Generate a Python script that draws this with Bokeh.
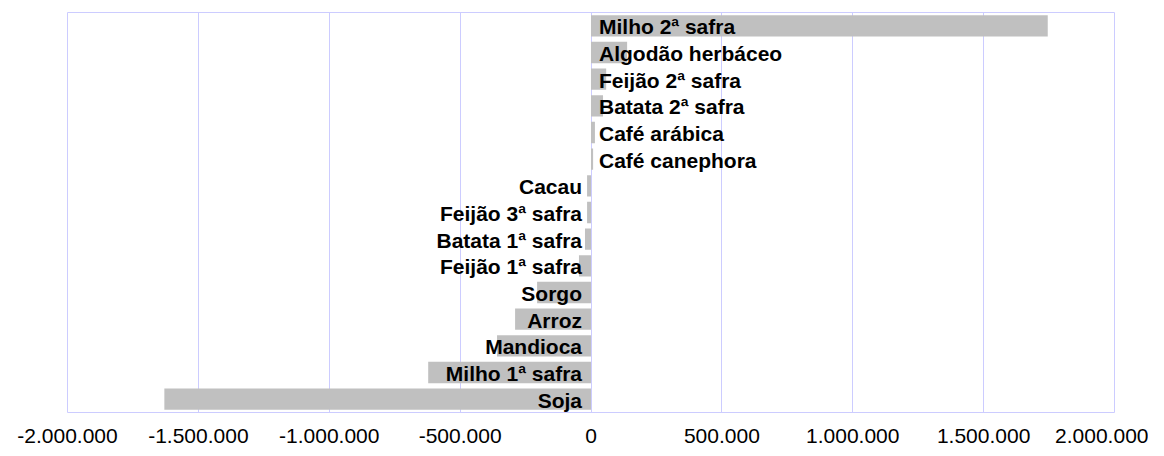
from bokeh.plotting import figure
from bokeh.models import FactorRange, FixedTicker, CustomJSTickFormatter, ColumnDataSource
from bokeh.core.properties import value
from bokeh.embed import file_html
from bokeh.resources import INLINE

# Data (top to bottom as in chart)
crops = ["Milho 2ª safra", "Algodão herbáceo", "Feijão 2ª safra", "Batata 2ª safra",
         "Café arábica", "Café canephora", "Cacau", "Feijão 3ª safra", "Batata 1ª safra",
         "Feijão 1ª safra", "Sorgo", "Arroz", "Mandioca", "Milho 1ª safra", "Soja"]
values = [1745000, 138000, 58000, 46000, 15000, 8000, -15000, -15000, -23000,
          -46000, -206000, -290000, -359000, -622000, -1630000]
tick_values = [-2000000, -1500000, -1000000, -500000, 0, 500000, 1000000, 1500000, 2000000]

factors = list(reversed(crops))

p = figure(width=1148, height=452, y_range=FactorRange(*factors, range_padding=0),
           x_range=(-2000000, 2000000), output_backend="svg", toolbar_location=None,
           min_border_left=67, min_border_right=34, min_border_top=12, min_border_bottom=40)

src = ColumnDataSource(dict(crop=crops, val=values,
                            zero=[0]*len(crops)))
p.hbar(y="crop", left="zero", right="val", height=0.8, source=src,
       fill_color="#c0c0c0", line_color=None)

pos = ColumnDataSource(dict(crop=[c for c, v in zip(crops, values) if v >= 0],
                            x=[0]*sum(1 for v in values if v >= 0)))
neg = ColumnDataSource(dict(crop=[c for c, v in zip(crops, values) if v < 0],
                            x=[0]*sum(1 for v in values if v < 0)))
p.text(x="x", y="crop", text="crop", source=pos, x_offset=8, y_offset=1,
       text_align="left", text_baseline="middle", text_font=value("Liberation Sans"),
       text_font_style="bold", text_font_size="21px", text_color="black")
p.text(x="x", y="crop", text="crop", source=neg, x_offset=-9, y_offset=1,
       text_align="right", text_baseline="middle", text_font=value("Liberation Sans"),
       text_font_style="bold", text_font_size="21px", text_color="black")

p.yaxis.visible = False
p.ygrid.visible = False
p.xaxis.ticker = FixedTicker(ticks=tick_values)
p.xaxis.formatter = CustomJSTickFormatter(code="""
var s = Math.abs(tick).toFixed(0).replace(/\\B(?=(\\d{3})+(?!\\d))/g, '.');
return (tick < 0 ? '-' : '') + s;
""")
p.xaxis.axis_line_color = None
p.xaxis.major_tick_line_color = None
p.xaxis.minor_tick_line_color = None
p.xaxis.major_tick_out = 0
p.xaxis.major_label_standoff = 16
p.xaxis.major_label_text_font = "Liberation Sans"
p.xaxis.major_label_text_font_size = "21px"
p.xaxis.major_label_text_color = "black"
p.xgrid.ticker = FixedTicker(ticks=tick_values)
p.xgrid.grid_line_color = "#ccccff"
p.xgrid.grid_line_width = 1
p.outline_line_color = "#ccccff"
p.outline_line_width = 1
p.background_fill_color = "white"
p.border_fill_color = "white"

open("out.html", "w").write(file_html(p, INLINE))
